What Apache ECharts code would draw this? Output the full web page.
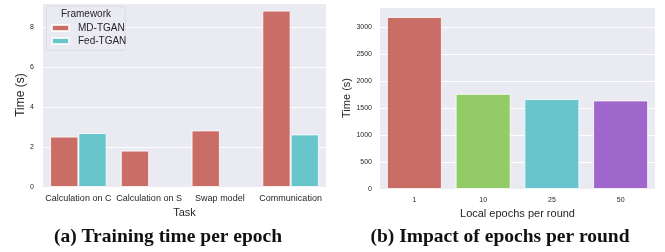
<!DOCTYPE html>
<html>
<head>
<meta charset="utf-8">
<script src="https://cdn.jsdelivr.net/npm/echarts@6/dist/echarts.min.js"></script>
<style>
    html, body { margin: 0; padding: 0; background: #fff; }
    #chart { width: 665px; height: 252px; }
</style>
</head>
<body>
<div id="chart"></div>
<script>
    // (a) training time per epoch
    var tasks = ['Calculation on C', 'Calculation on S', 'Swap model', 'Communication'];
    var mdTgan = [2.52, 1.82, 2.83, 8.82];
    var fedTgan = [2.70, null, null, 2.63];
    var leftTicks = [0, 2, 4, 6, 8];

    // (b) impact of epochs per round
    var localEpochs = ['1', '10', '25', '50'];
    var epochTime = [3185, 1762, 1665, 1640];
    var rightTicks = [0, 500, 1000, 1500, 2000, 2500, 3000];

    var red = '#cb6d67', green = '#93cb67', cyan = '#67c5cb', purple = '#9f67cb';
    var font = '"Liberation Sans", Arial, sans-serif';
    var serif = '"Liberation Serif", "DejaVu Serif", serif';
    var txt = '#262626';

    var chart = echarts.init(document.getElementById('chart'));

    function tickFmt(list) {
        return function (v) { return list.indexOf(v) >= 0 ? String(v) : ''; };
    }

    chart.setOption({
        animation: false,
        textStyle: { fontFamily: font },
        grid: [
            { left: 43, right: 339, top: 3, bottom: 65, show: true, backgroundColor: '#eaeaf2', borderWidth: 0 },
            { left: 380, right: 10, top: 7, bottom: 63, show: true, backgroundColor: '#eaeaf2', borderWidth: 0 }
        ],
        xAxis: [
            {
                gridIndex: 0, type: 'category', data: tasks,
                name: 'Task', nameLocation: 'middle', nameGap: 19,
                nameTextStyle: { fontSize: 11, color: txt, fontFamily: font },
                axisLine: { show: false }, axisTick: { show: false },
                axisLabel: { fontSize: 9, color: txt, margin: 7, interval: 0 }
            },
            {
                gridIndex: 1, type: 'category', data: localEpochs,
                name: 'Local epochs per round', nameLocation: 'middle', nameGap: 17,
                nameTextStyle: { fontSize: 11, color: txt, fontFamily: font },
                axisLine: { show: false }, axisTick: { show: false },
                axisLabel: { fontSize: 7, color: txt, margin: 8 }
            }
        ],
        yAxis: [
            {
                gridIndex: 0, type: 'value', min: 0, max: 9.2, interval: 2,
                name: 'Time (s)', nameLocation: 'middle', nameGap: 15,
                nameTextStyle: { fontSize: 12, color: txt, fontFamily: font },
                axisLine: { show: false }, axisTick: { show: false },
                axisLabel: { fontSize: 7, color: txt, margin: 9, formatter: tickFmt(leftTicks) },
                splitLine: { lineStyle: { color: '#fff', width: 1 } }
            },
            {
                gridIndex: 1, type: 'value', min: 0, max: 3370, interval: 500,
                name: 'Time (s)', nameLocation: 'middle', nameGap: 24,
                nameTextStyle: { fontSize: 11, color: txt, fontFamily: font },
                axisLine: { show: false }, axisTick: { show: false },
                axisLabel: { fontSize: 7, color: txt, margin: 8, formatter: tickFmt(rightTicks) },
                splitLine: { lineStyle: { color: '#fff', width: 1 } }
            }
        ],
        legend: {
            orient: 'vertical', left: 51, top: 22, z: 100, padding: 0,
            itemWidth: 17, itemHeight: 6, itemGap: 1,
            icon: 'rect',
            data: ['MD-TGAN', 'Fed-TGAN'],
            textStyle: { fontSize: 10, lineHeight: 12, color: txt, padding: [0, 0, 0, 4], fontFamily: font }
        },
        graphic: [
            {
                type: 'rect', left: 46, top: 6, z: 50,
                shape: { width: 79, height: 44, r: 2 },
                style: { fill: 'rgba(234,234,242,0.85)', stroke: '#d8d8e0', lineWidth: 0.8 }
            },
            {
                type: 'text', left: 61, top: 9, z: 51,
                style: { text: 'Framework', fontSize: 10, fill: txt, fontFamily: font }
            },
            {
                type: 'text', x: 168, y: 237, z: 51,
                style: { text: '(a) Training time per epoch', fontSize: 19.5, fontWeight: 'bold', fill: '#111',
                    fontFamily: serif, align: 'center', verticalAlign: 'middle' }
            },
            {
                type: 'text', x: 500, y: 237, z: 51,
                style: { text: '(b) Impact of epochs per round', fontSize: 19.5, fontWeight: 'bold', fill: '#111',
                    fontFamily: serif, align: 'center', verticalAlign: 'middle' }
            }
        ],
        series: [
            {
                name: 'MD-TGAN', type: 'bar', xAxisIndex: 0, yAxisIndex: 0,
                data: mdTgan, barGap: '0%', barCategoryGap: '20%',
                itemStyle: { color: red, borderColor: 'rgba(255,255,255,0.8)', borderWidth: 1 }
            },
            {
                name: 'Fed-TGAN', type: 'bar', xAxisIndex: 0, yAxisIndex: 0,
                data: fedTgan, barGap: '0%', barCategoryGap: '20%',
                itemStyle: { color: cyan, borderColor: 'rgba(255,255,255,0.8)', borderWidth: 1 }
            },
            {
                name: 'epochs', type: 'bar', xAxisIndex: 1, yAxisIndex: 1,
                barCategoryGap: '20%',
                data: epochTime.map(function (v, i) {
                    return { value: v, itemStyle: { color: [red, green, cyan, purple][i] } };
                }),
                itemStyle: { borderColor: 'rgba(255,255,255,0.8)', borderWidth: 1 }
            }
        ]
    });
</script>
</body>
</html>
